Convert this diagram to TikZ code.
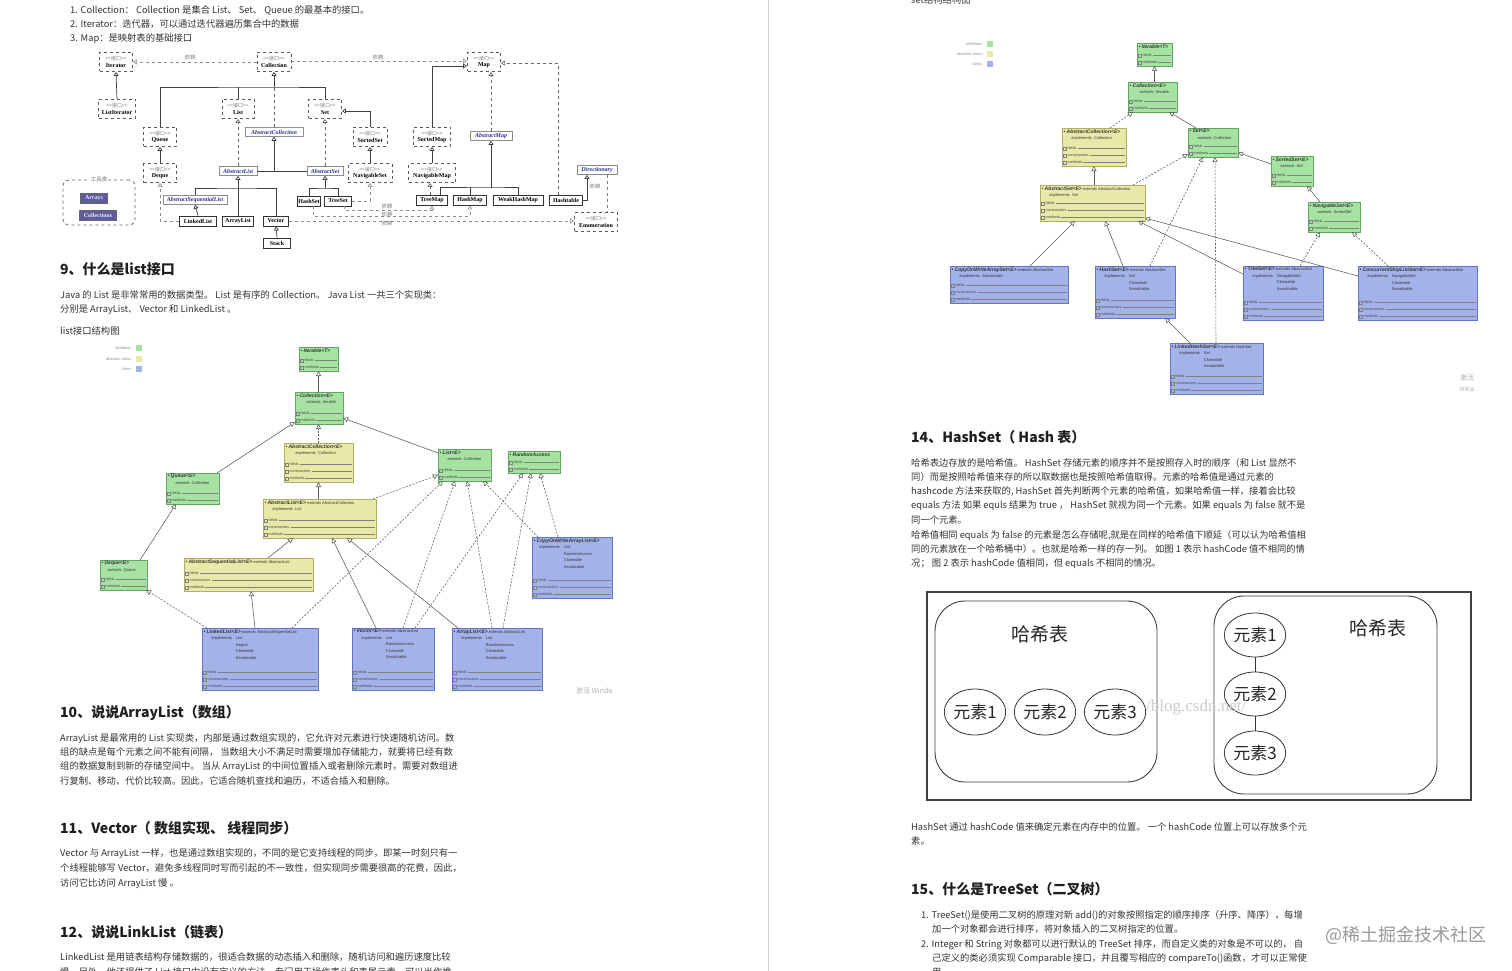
\documentclass[tikz,border=0pt]{standalone}
\usepackage{fontspec}
\setmainfont{Noto Sans CJK SC}
\newfontfamily\serifb{Liberation Serif}
\newfontfamily\umlf{Liberation Sans}
\usetikzlibrary{arrows.meta,calc,shapes.geometric}
\definecolor{tc}{HTML}{333333}
\definecolor{gfill}{HTML}{A6E3A3}
\definecolor{gdraw}{HTML}{5FA85F}
\definecolor{yfill}{HTML}{E8E8A8}
\definecolor{ydraw}{HTML}{B0B060}
\definecolor{bfill}{HTML}{A3B3EA}
\definecolor{bdraw}{HTML}{6474C4}
\definecolor{purp}{HTML}{5E5C9C}
\definecolor{abl}{HTML}{2E2E8E}
\newcommand\ifl[1]{{\rmfamily\mdseries\fontsize{5}{5.5}\selectfont\color{black!50}<{}<接口>{}>}\\#1}
\newcommand\ubox[6]{\node[ubx,#6,minimum width={(#4)-(#2)},minimum height={(#5)-(#3)}] (#1) at ({((#2)+(#4))/2},{((#3)+(#5))/2}) {};}
\newcommand\uhead[2]{\node[anchor=north west,inner sep=1.3pt,align=left,font=\umlf\fontsize{4}{6.5}\selectfont,text=black!80] at (#1.north west) {#2};}
\newcommand\ut[1]{{\fontsize{5}{6.5}\selectfont\bfseries\itshape\textbullet\ #1}}
\newcommand\uimp[2]{\hspace*{#1}\begin{tabular}[t]{@{}l@{\hspace{4pt}}l@{}}#2\end{tabular}}
\newcommand\usec[5]{%
  \draw[black!50,line width=0.3pt] ({#1+1.5},{#3-(#4-0.5)*7-1.5}) rectangle ++(3,3);
  \node[anchor=west,inner sep=0,font=\umlf\fontsize{3.8}{4}\selectfont,text=black!70] (us) at ({#1+5.5},{#3-(#4-0.5)*7}) {#5};
  \draw[black!50,line width=0.3pt] ([xshift=1pt]us.east) -- ({#2-1.5},{#3-(#4-0.5)*7});
}
\newcommand\usecs[3]{\usec{#1}{#2}{#3}{3}{fields}\usec{#1}{#2}{#3}{2}{constructors}\usec{#1}{#2}{#3}{1}{methods}}
\newcommand\usect[3]{\usec{#1}{#2}{#3}{2}{fields}\usec{#1}{#2}{#3}{1}{methods}}
\begin{document}
\begin{tikzpicture}[x=1pt,y=-1pt,
  txt/.style={anchor=base west,inner sep=0,text=tc,font=\fontsize{9.3}{11}\selectfont},
  hd/.style={anchor=base west,inner sep=0,text=black!88,font=\fontsize{14}{16}\selectfont\bfseries},
  ifc/.style={draw=black!65,dashed,line width=0.8pt,fill=white,inner sep=0.5pt,align=center,
    font=\serifb\bfseries\fontsize{6}{6.5}\selectfont,minimum height=19pt},
  cls/.style={draw=black!80,line width=0.9pt,fill=white,inner sep=1pt,
    font=\serifb\bfseries\fontsize{6}{6.5}\selectfont,minimum height=10pt},
  acl/.style={draw=black!45,line width=0.6pt,fill=white,inner sep=1pt,text=abl,
    font=\serifb\bfseries\itshape\fontsize{6}{6.5}\selectfont,minimum height=9pt},
  dl/.style={inner sep=0,text=black!50,font=\fontsize{5.5}{6}\selectfont},
  ln/.style={line width=0.7pt,draw=black!75},
  inh/.style={ln,-{Triangle[open,length=4pt,width=5pt]}},
  real/.style={inh,dashed,draw=black!60},
  dep/.style={-{Triangle[open,length=4pt,width=5pt]},dashed,draw=black!45,line width=0.6pt},
  ubx/.style={line width=0.6pt,inner sep=0,outer sep=0},
  gf/.style={fill=gfill,draw=gdraw},
  yf/.style={fill=yfill,draw=ydraw},
  bf/.style={fill=bfill,draw=bdraw},
  uinh/.style={-{Triangle[open,length=5pt,width=5pt]},draw=black!65,line width=0.55pt},
  ureal/.style={uinh,dash pattern=on 2pt off 1.5pt},
  lg/.style={anchor=east,inner sep=0,text=black!45,font=\umlf\fontsize{4}{4}\selectfont},
  el/.style={ellipse,draw=black!80,line width=0.8pt,fill=white,minimum width=56pt,minimum height=46pt,inner sep=0,font=\fontsize{17}{18}\selectfont,text=black!85},
  rbox/.style={draw=black!75,line width=0.9pt,rounded corners=30pt}
]
\useasboundingbox (0,0) rectangle (1512,971);
\clip (0,0) rectangle (1512,971);
\fill[white] (0,0) rectangle (1512,971);
\draw[black!18,line width=0.8pt] (768,0) -- (768,971);

% ---------------- left column text ----------------
\node[txt] (t1) at (70,13.5) {1. Collection： Collection 是集合 List、 Set、 Queue 的最基本的接口。};
\node[txt] (t2) at (70,27.5) {2. Iterator：迭代器，可以通过迭代器遍历集合中的数据};
\node[txt] (t3) at (70,41.5) {3. Map：是映射表的基础接口};

% ---------------- collection diagram ----------------
\node[ifc,minimum width=33pt] (cIter) at (116,62) {\ifl{Iterator}};
\node[ifc,minimum width=34pt] (cColl) at (274,62) {\ifl{Collection}};
\node[ifc,minimum width=33pt] (cMap) at (484,62) {\ifl{Map}};
\node[ifc,minimum width=37pt] (cLIter) at (117,109) {\ifl{ListIterator}};
\node[ifc,minimum width=32pt] (cList) at (238,109) {\ifl{List}};
\node[ifc,minimum width=33pt] (cSet) at (325,109) {\ifl{Set}};
\node[ifc,minimum width=33pt] (cQueue) at (160,137) {\ifl{Queue}};
\node[ifc,minimum width=33pt] (cDeque) at (160,173) {\ifl{Deque}};
\node[acl,minimum width=58pt] (cAColl) at (274,132) {AbstractCollection};
\node[ifc,minimum width=34pt] (cSSet) at (370,137) {\ifl{SortedSet}};
\node[ifc,minimum width=44pt] (cNSet) at (370,173) {\ifl{NavigableSet}};
\node[ifc,minimum width=37pt] (cSMap) at (432,137) {\ifl{SortedMap}};
\node[ifc,minimum width=47pt] (cNMap) at (432,173) {\ifl{NavigableMap}};
\node[acl,minimum width=42pt] (cAMap) at (491,136) {AbstractMap};
\node[acl,minimum width=38pt] (cAList) at (238,171) {AbstractList};
\node[acl,minimum width=36pt] (cASet) at (325,171) {AbstractSet};
\node[acl,minimum width=64pt] (cASeq) at (195,200) {AbstractSequentialList};
\node[cls,minimum width=22pt] (cHSet) at (309,201) {HashSet};
\node[cls,minimum width=27pt] (cTSet) at (338,201) {TreeSet};
\node[cls,minimum width=31pt] (cTMap) at (432,200) {TreeMap};
\node[cls,minimum width=33pt] (cHMap) at (470,200) {HashMap};
\node[cls,minimum width=50pt] (cWHM) at (518,200) {WeakHashMap};
\node[cls,minimum width=33pt] (cHT) at (566,200) {Hashtable};
\node[acl,minimum width=40pt] (cDir) at (597,170) {Directionary};
\node[ifc,minimum width=43pt] (cEnum) at (596,222) {\ifl{Enumeration}};
\node[cls,minimum width=37pt] (cLL) at (198,221) {LinkedList};
\node[cls,minimum width=31pt] (cAL) at (238,221) {ArrayList};
\node[cls,minimum width=25pt] (cVec) at (276,221) {Vector};
\node[cls,minimum width=27pt] (cStack) at (277,243) {Stack};
\node[draw=black!60,dashed,line width=0.8pt,rounded corners=6pt,minimum width=72pt,minimum height=45pt] (tools) at (99,202.5) {};
\node[fill=white,inner sep=1pt,text=black!55,font=\fontsize{5.5}{6}\selectfont] (toolsl) at (tools.north) {工具类};
\node[fill=purp,draw=black!60,inner sep=1pt,minimum width=27pt,minimum height=10pt,text=white!85!purp,font=\serifb\bfseries\fontsize{6}{6.5}\selectfont] (cArr) at (94,198) {Arrays};
\node[fill=purp,draw=black!60,inner sep=1pt,minimum width=37pt,minimum height=10pt,text=white!85!purp,font=\serifb\bfseries\fontsize{6}{6.5}\selectfont] (cColls) at (98,215) {Collections};

\coordinate (bColl) at (274,87);
\coordinate (bAList) at (238,188);
\coordinate (bASet) at (325,188);
\coordinate (bMap) at (492,187);
\coordinate (d1) at (432,210);
\coordinate (d2) at (470,216);
\draw[dep] (cColl.west) -- (cIter.east);
\draw[dep] ([yshift=1pt]cColl.east) -- ([yshift=1pt]cMap.west);
\node[dl] (dl1) at (190,57) {依赖};
\node[dl] (dl2) at (378,57) {依赖};
\draw[dep,draw=black!60] ([xshift=-8pt]cHT.north) |- ([yshift=-1pt]cMap.east);
\draw[inh] (cLIter.north) -- (cIter.south);
\draw[ln] (cQueue.north) |- (bColl) -| (cSet.north);
\draw[ln] (cList.north) -- (cList.north |- bColl);
\draw[inh] (bColl) -- (cColl.south);
\draw[ln,dashed,draw=black!60] (cAColl.north) -- (bColl);
\draw[inh] (cDeque.north) -- (cQueue.south);
\draw[real] (cAList.north) -- (cList.south);
\draw[inh] (cAList.east) -| (cAColl.south);
\draw[ln] (cASet.west) -- (cASet.west -| cAColl.south);
\draw[real] (cASet.north) -- (cSet.south);
\draw[inh] (cSSet.north) |- ([yshift=-2pt]cSet.east);
\draw[inh] (cNSet.north) -- (cSSet.south);
\draw[inh] (cSMap.north) |- ([yshift=-4pt]cMap.west);
\draw[inh] (cNMap.north) -- (cSMap.south);
\draw[real] (cAMap.north) -- (cAMap.north |- cMap.south);
\draw[inh] (bMap) -- (cAMap.south |- bMap) -- (cAMap.south);
\draw[ln] ([xshift=8pt]cTMap.north) |- (bMap) -| (cWHM.north);
\draw[ln] (cHMap.north) -- (cHMap.north |- bMap);
\draw[real] ([xshift=-2pt]cTMap.north) -- ([xshift=-2pt]cNMap.south);
\draw[inh] (cHT.east) -| ([xshift=-10pt]cDir.south);
\draw[ln,dashed,draw=black!50] ([xshift=10pt]cDir.south) -- ([xshift=10pt]cDir.south |- cEnum.north);
\node[dl] (dl3) at (595,186) {依赖};
\draw[dep] ([xshift=6pt]cTSet.south) |- (d1) -- (cTMap.south);
\draw[dep] ([xshift=4pt]cHSet.south) |- (d2) -- (cHMap.south);
\draw[dep] (cVec.east) -- (cVec.east -| cEnum.west);
\node[dl] (dl4) at (387,206) {依赖};
\node[dl] (dl5) at (387,214) {依赖};
\node[dl] (dl6) at (387,223) {依赖};
\draw[dep] (cTSet.east) -| (cNSet.south);
\draw[inh] (bASet) -- (cASet.south);
\draw[ln] (cHSet.north) |- (bASet) -| (cTSet.north);
\draw[ln] (cASeq.north) |- (bAList) -| (cVec.north);
\draw[inh] (cAL.north) -- (cAList.south);
\draw[inh] (cLL.north) -- (cASeq.south);
\draw[inh] (cStack.north) -- (cVec.south);
\draw[dep] (cLL.west) -| (cDeque.south);

% ---------------- section 9 ----------------
\node[hd] (h9) at (60,274) {9、什么是list接口};
\node[txt] (p9a) at (60,298.5) {Java 的 List 是非常常用的数据类型。 List 是有序的 Collection。 Java List 一共三个实现类：};
\node[txt] (p9b) at (60,312.5) {分别是 ArrayList、 Vector 和 LinkedList 。};
\node[txt] (p9c) at (60,334.5) {list接口结构图};

% ---------------- list diagram ----------------
\node[lg] (lg1) at (132,348) {interface:};
\node[lg] (lg2) at (132,359) {abstract class:};
\node[lg] (lg3) at (132,369) {class:};
\fill[gfill] (136,345) rectangle (142,351);
\fill[yfill] (136,356) rectangle (142,362);
\fill[bfill] (136,366) rectangle (142,372);

\ubox{lIter}{299}{347}{338}{371}{gf}
\uhead{lIter}{\ut{Iterable<T>}}
\usect{299}{338}{371}
\ubox{lColl}{295}{392}{343}{424}{gf}
\uhead{lColl}{\ut{Collection<E>}\\\hspace*{10pt}\textit{extends\ \ Iterable}}
\usect{295}{343}{424}
\ubox{lAColl}{284}{443}{353}{482}{yf}
\uhead{lAColl}{\ut{AbstractCollection<E>}\\\hspace*{10pt}\textit{implements\ \ Collection}}
\usecs{284}{353}{482}
\ubox{lList}{438}{449}{491}{481}{gf}
\uhead{lList}{\ut{List<E>}\\\hspace*{8pt}\textit{extends\ \ Collection}}
\usect{438}{491}{481}
\ubox{lRA}{508}{451}{560}{473}{gf}
\uhead{lRA}{\ut{RandomAccess}}
\usect{508}{560}{473}
\ubox{lQueue}{166}{473}{219}{504}{gf}
\uhead{lQueue}{\ut{Queue<E>}\\\hspace*{8pt}\textit{extends\ \ Collection}}
\usect{166}{219}{504}
\ubox{lAList}{263}{499}{376}{538}{yf}
\uhead{lAList}{\ut{AbstractList<E>} \textit{extends AbstractCollection}\\\hspace*{8pt}\textit{implements\ \ List}}
\usecs{263}{376}{538}
\ubox{lASeq}{184}{558}{313}{591}{yf}
\uhead{lASeq}{\ut{AbstractSequentialList<E>} \textit{extends AbstractList}}
\usecs{184}{313}{591}
\ubox{lDeque}{100}{560}{147}{590}{gf}
\uhead{lDeque}{\ut{Deque<E>}\\\hspace*{6pt}\textit{extends\ \ Queue}}
\usect{100}{147}{590}
\ubox{lCOW}{532}{537}{612}{598}{bf}
\uhead{lCOW}{\ut{CopyOnWriteArrayList<E>}\\\uimp{6pt}{implements & List\\ & RandomAccess\\ & Cloneable\\ & Serializable}}
\usecs{532}{612}{598}
\ubox{lLL}{202}{628}{318}{690}{bf}
\uhead{lLL}{\ut{LinkedList<E>} extends AbstractSequentialList\\\uimp{8pt}{implements & List\\ & Deque\\ & Cloneable\\ & Serializable}}
\usecs{202}{318}{690}
\ubox{lVec}{352}{628}{434}{690}{bf}
\uhead{lVec}{\ut{Vector<E>} extends AbstractList\\\uimp{8pt}{implements & List\\ & RandomAccess\\ & Cloneable\\ & Serializable}}
\usecs{352}{434}{690}
\ubox{lAL}{452}{628}{542}{690}{bf}
\uhead{lAL}{\ut{ArrayList<E>} extends AbstractList\\\uimp{8pt}{implements & List\\ & RandomAccess\\ & Cloneable\\ & Serializable}}
\usecs{452}{542}{690}

\draw[uinh] (lIter.south |- lColl.north) -- (lIter.south);
\draw[uinh] ([xshift=51pt]lQueue.north west) -- ([yshift=2pt]lColl.south west);
\draw[ureal] (lAColl.north) -- (lAColl.north |- lColl.south);
\draw[uinh] ([yshift=-4pt]lList.north west) -- ([yshift=-10pt]lColl.east);
\draw[uinh] (lAColl.south |- lAList.north) -- (lAColl.south);
\draw[ureal] ([xshift=110pt]lAList.north west) -- ([yshift=6pt]lList.south west);
\draw[uinh] ([xshift=40pt]lDeque.north west) -- ([xshift=10pt]lQueue.south west);
\draw[uinh] ([xshift=84pt]lASeq.north west) -- ([xshift=30pt]lAList.south west);
\draw[ureal] ([xshift=5pt]lLL.north west) -- ([xshift=-1pt]lDeque.south east);
\draw[uinh] ([xshift=53pt]lLL.north west) -- ([xshift=67pt]lASeq.south west);
\draw[ureal] ([xshift=90pt]lLL.north west) -- ([xshift=5pt]lList.south west);
\draw[uinh] ([xshift=24pt]lVec.north west) -- ([xshift=69pt]lAList.south west);
\draw[uinh] ([xshift=6pt]lAL.north west) -- ([xshift=84pt]lAList.south west);
\draw[ureal] ([xshift=51pt]lVec.north west) -- ([xshift=17pt]lList.south west);
\draw[ureal] ([xshift=63pt]lVec.north west) -- ([xshift=15pt]lRA.south west);
\draw[ureal] ([xshift=40pt]lAL.north west) -- ([xshift=29pt]lList.south west);
\draw[ureal] ([xshift=51pt]lAL.north west) -- ([xshift=23pt]lRA.south west);
\draw[ureal] ([xshift=6pt]lCOW.north west) -- ([xshift=45pt]lList.south west);
\draw[ureal] ([xshift=26pt]lCOW.north west) -- ([xshift=32pt]lRA.south west);
\node[anchor=base west,inner sep=0,text=black!30,font=\fontsize{7}{8}\selectfont] (wm1) at (576,693) {激活 Windo};

% ---------------- sections 10-12 ----------------
\node[hd] (h10) at (60,717) {10、说说ArrayList（数组）};
\node[txt] (p10a) at (60,741.5) {ArrayList 是最常用的 List 实现类，内部是通过数组实现的，它允许对元素进行快速随机访问。数};
\node[txt] (p10b) at (60,755.5) {组的缺点是每个元素之间不能有间隔， 当数组大小不满足时需要增加存储能力，就要将已经有数};
\node[txt] (p10c) at (60,769.5) {组的数据复制到新的存储空间中。 当从 ArrayList 的中间位置插入或者删除元素时，需要对数组进};
\node[txt] (p10d) at (60,784) {行复制、移动、代价比较高。因此，它适合随机查找和遍历，不适合插入和删除。};
\node[hd] (h11) at (60,833) {11、Vector（ 数组实现、 线程同步）};
\node[txt] (p11a) at (60,856.5) {Vector 与 ArrayList 一样，也是通过数组实现的，不同的是它支持线程的同步，即某一时刻只有一};
\node[txt] (p11b) at (60,871.5) {个线程能够写 Vector，避免多线程同时写而引起的不一致性，但实现同步需要很高的花费，因此，};
\node[txt] (p11c) at (60,886.5) {访问它比访问 ArrayList 慢 。};
\node[hd] (h12) at (60,937) {12、说说LinkList（链表）};
\node[txt] (p12a) at (60,960.5) {LinkedList 是用链表结构存储数据的，很适合数据的动态插入和删除，随机访问和遍历速度比较};
\node[txt] (p12b) at (60,975) {慢。另外，他还提供了 List 接口中没有定义的方法，专门用于操作表头和表尾元素，可以当作堆};

% ---------------- right column: set diagram ----------------
\node[txt] (sT) at (911,3.5) {set结构结构图};
\node[lg] (slg1) at (983,44) {interface:};
\node[lg] (slg2) at (983,54) {abstract class:};
\node[lg] (slg3) at (983,64) {class:};
\fill[gfill] (987,41) rectangle (993,47);
\fill[yfill] (987,51) rectangle (993,57);
\fill[bfill] (987,61) rectangle (993,67);

\ubox{sIter}{1137}{43}{1172}{66}{gf}
\uhead{sIter}{\ut{Iterable<T>}}
\usect{1137}{1172}{66}
\ubox{sColl}{1128}{82}{1177}{112}{gf}
\uhead{sColl}{\ut{Collection<E>}\\\hspace*{10pt}\textit{extends\ \ Iterable}}
\usect{1128}{1177}{112}
\ubox{sAColl}{1062}{128}{1126}{166}{yf}
\uhead{sAColl}{\ut{AbstractCollection<E>}\\\hspace*{8pt}\textit{implements\ \ Collection}}
\usecs{1062}{1126}{166}
\ubox{sSet}{1188}{128}{1238}{157}{gf}
\uhead{sSet}{\ut{Set<E>}\\\hspace*{8pt}\textit{extends\ \ Collection}}
\usect{1188}{1238}{157}
\ubox{sSSet}{1271}{156}{1313}{186}{gf}
\uhead{sSSet}{\ut{SortedSet<E>}\\\hspace*{8pt}\textit{extends\ \ Set}}
\usect{1271}{1313}{186}
\ubox{sASet}{1040}{185}{1145}{221}{yf}
\uhead{sASet}{\ut{AbstractSet<E>} \textit{extends AbstractCollection}\\\hspace*{8pt}\textit{implements\ \ Set}}
\usecs{1040}{1145}{221}
\ubox{sNSet}{1308}{202}{1360}{232}{gf}
\uhead{sNSet}{\ut{NavigableSet<E>}\\\hspace*{8pt}\textit{extends\ \ SortedSet}}
\usect{1308}{1360}{232}
\ubox{sCOW}{950}{266}{1068}{303}{bf}
\uhead{sCOW}{\ut{CopyOnWriteArraySet<E>} extends AbstractSet\\\hspace*{8pt}implements\ \ Serializable}
\usecs{950}{1068}{303}
\ubox{sHS}{1095}{266}{1175}{318}{bf}
\uhead{sHS}{\ut{HashSet<E>} extends AbstractSet\\\uimp{8pt}{implements & Set\\ & Cloneable\\ & Serializable}}
\usecs{1095}{1175}{318}
\ubox{sTS}{1243}{266}{1323}{320}{bf}
\uhead{sTS}{\ut{TreeSet<E>} extends AbstractSet\\\uimp{8pt}{implements & NavigableSet\\ & Cloneable\\ & Serializable}}
\usecs{1243}{1323}{320}
\ubox{sCSL}{1358}{266}{1477}{320}{bf}
\uhead{sCSL}{\ut{ConcurrentSkipListSet<E>} extends AbstractSet\\\uimp{8pt}{implements & NavigableSet\\ & Cloneable\\ & Serializable}}
\usecs{1358}{1477}{320}
\ubox{sLHS}{1170}{343}{1263}{394}{bf}
\uhead{sLHS}{\ut{LinkedHashSet<E>} extends HashSet\\\uimp{8pt}{implements & Set\\ & Cloneable\\ & Serializable}}
\usecs{1170}{1263}{394}

\draw[uinh] (sIter.south |- sColl.north) -- (sIter.south);
\draw[ureal] ([xshift=48pt]sAColl.north west) -- ([xshift=5pt]sColl.south west);
\draw[uinh] ([xshift=8pt]sSet.north west) -- ([xshift=-8pt]sColl.south east);
\draw[uinh] (sAColl.south |- sASet.north) -- (sAColl.south);
\draw[ureal] ([xshift=-12pt]sASet.north east) -- ([yshift=3pt]sSet.south west);
\draw[uinh] ([yshift=-8pt]sSSet.north west) -- ([yshift=-10pt]sSet.east);
\draw[uinh] ([xshift=12pt]sNSet.north west) -- ([xshift=-6pt]sSSet.south east);
\draw[uinh] ([xshift=80pt]sCOW.north west) -- ([xshift=35pt]sASet.south west);
\draw[uinh] ([xshift=28pt]sHS.north west) -- ([xshift=65pt]sASet.south west);
\draw[uinh] ([yshift=-8pt]sTS.north west) -- ([xshift=-7pt]sASet.south east);
\draw[uinh] ([yshift=-10pt]sCSL.north west) -- ([yshift=3pt]sASet.south east);
\draw[ureal] ([xshift=55pt]sHS.north west) -- ([xshift=15pt]sSet.south west);
\draw[ureal] ([xshift=46pt]sLHS.north west) -- ([xshift=27pt]sSet.south west);
\draw[ureal] ([xshift=57pt]sTS.north west) -- ([xshift=12pt]sNSet.south west);
\draw[ureal] ([xshift=30pt]sCSL.north west) -- ([xshift=44pt]sNSet.south west);
\draw[uinh] ([xshift=20pt]sLHS.north west) -- ([xshift=-10pt]sHS.south east);
\node[inner sep=0,text=black!30,font=\fontsize{7}{8}\selectfont] (wm2) at (1467,378) {激活};
\node[inner sep=0,text=black!30,font=\fontsize{5}{6}\selectfont] (wm3) at (1467,390) {转到设};

% ---------------- section 14 ----------------
\node[hd] (h14) at (911,442) {14、HashSet（ Hash 表）};
\node[txt] (p14a) at (911,466.5) {哈希表边存放的是哈希值。 HashSet 存储元素的顺序并不是按照存入时的顺序（和 List 显然不};
\node[txt] (p14b) at (911,480.5) {同）而是按照哈希值来存的所以取数据也是按照哈希值取得。元素的哈希值是通过元素的};
\node[txt] (p14c) at (911,494.5) {hashcode 方法来获取的, HashSet 首先判断两个元素的哈希值，如果哈希值一样，接着会比较};
\node[txt] (p14d) at (911,508.5) {equals 方法 如果 equls 结果为 true ， HashSet 就视为同一个元素。如果 equals 为 false 就不是};
\node[txt] (p14e) at (911,523.5) {同一个元素。};
\node[txt] (p14f) at (911,538.5) {哈希值相同 equals 为 false 的元素是怎么存储呢,就是在同样的哈希值下顺延（可以认为哈希值相};
\node[txt] (p14g) at (911,552.5) {同的元素放在一个哈希桶中）。也就是哈希一样的存一列。 如图 1 表示 hashCode 值不相同的情};
\node[txt] (p14h) at (911,566.5) {况； 图 2 表示 hashCode 值相同，但 equals 不相同的情况。};

% ---------------- hash diagram ----------------
\node[draw=black!75,line width=1.1pt,minimum width=544pt,minimum height=208pt,inner sep=0] (hOut) at (1199,696) {};
\node[rbox,minimum width=222pt,minimum height=181pt,inner sep=0] (hL) at (1046,691.5) {};
\node[rbox,minimum width=223pt,minimum height=198pt,inner sep=0] (hR) at (1325.5,695) {};
\node[inner sep=0,text=black!85,font=\fontsize{19}{20}\selectfont] (hLt) at (1040,634) {哈希表};
\node[inner sep=0,text=black!85,font=\fontsize{19}{20}\selectfont] (hRt) at (1378,628) {哈希表};
\node[el] (e1) at (975,712) {元素1};
\node[el] (e2) at (1045,712) {元素2};
\node[el] (e3) at (1115,712) {元素3};
\node[el,minimum height=44pt] (r1) at (1255,635) {元素1};
\node[el,minimum height=44pt] (r2) at (1255,694) {元素2};
\node[el,minimum height=44pt] (r3) at (1255,753) {元素3};
\draw[black!80,line width=0.8pt] (r1) -- (r2);
\draw[black!80,line width=0.8pt] (r2) -- (r3);
\node[inner sep=0,text=black!20,font=\serifb\fontsize{17}{18}\selectfont,anchor=west] (wm4) at (1146,707) {/blog.csdn.net/};

% ---------------- sections after ----------------
\node[txt] (p14i) at (911,830.5) {HashSet 通过 hashCode 值来确定元素在内存中的位置。 一个 hashCode 位置上可以存放多个元};
\node[txt] (p14j) at (911,844.5) {素。};
\node[hd] (h15) at (911,894) {15、什么是TreeSet（二叉树）};
\node[txt] (p15a) at (921,918.5) {1. TreeSet()是使用二叉树的原理对新 add()的对象按照指定的顺序排序（升序、降序），每增};
\node[txt] (p15b) at (932,932.5) {加一个对象都会进行排序，将对象插入的二叉树指定的位置。};
\node[txt] (p15c) at (921,947.5) {2. Integer 和 String 对象都可以进行默认的 TreeSet 排序，而自定义类的对象是不可以的， 自};
\node[txt] (p15d) at (932,961.5) {己定义的类必须实现 Comparable 接口，并且覆写相应的 compareTo()函数，才可以正常使};
\node[txt] (p15e) at (932,975) {用。};
\node[anchor=base west,inner sep=0,text=black!40,font=\fontsize{18}{19}\selectfont] (wm5) at (1325,941) {@稀土掘金技术社区};
\end{tikzpicture}
\end{document}
